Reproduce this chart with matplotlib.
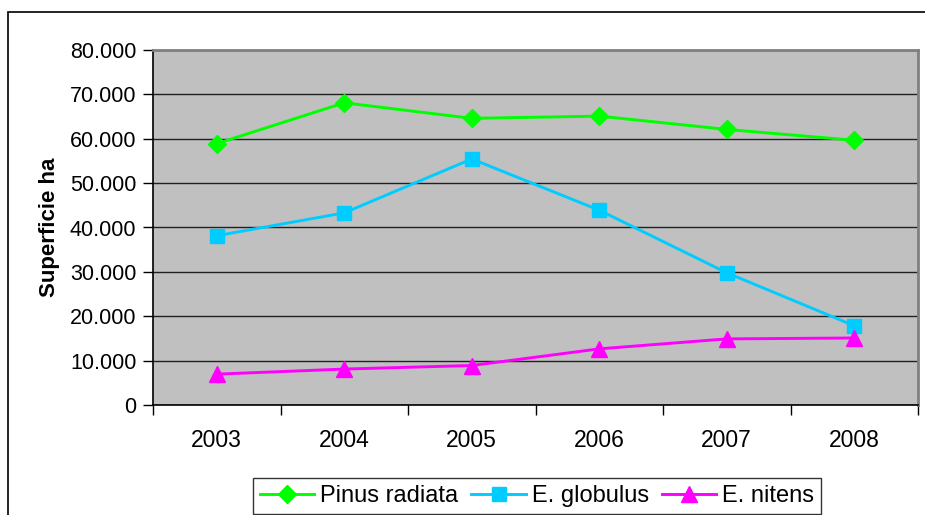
import matplotlib.pyplot as plt
from matplotlib.patches import Rectangle
from matplotlib.ticker import FuncFormatter

years = ['2003', '2004', '2005', '2006', '2007', '2008']
pinus = [58900, 68100, 64600, 65100, 62100, 59650]
globulus = [38150, 43300, 55450, 43900, 29800, 17850]
nitens = [6950, 8100, 8900, 12650, 14900, 15100]

plt.rcParams['font.family'] = ['Liberation Sans', 'DejaVu Sans']
plt.rcParams['font.size'] = 15.5

fig = plt.figure(figsize=(9.25, 5.15), dpi=100)
ax = fig.add_axes([153 / 925, 110 / 515, 765 / 925, 355 / 515])

# outer chart border (extends past the right and bottom edges)
fig.patches.append(Rectangle((8 / 925, -0.1), 1.2, 1 - 12 / 515 + 0.1,
                             transform=fig.transFigure, fill=False,
                             edgecolor='black', linewidth=1.2, zorder=0))

x = list(range(len(years)))
ax.plot(x, pinus, color='#00FF00', lw=2.1, marker='D', markersize=9.5,
        label='Pinus radiata', zorder=3)
ax.plot(x, globulus, color='#00CCFF', lw=2.1, marker='s', markersize=10,
        label='E. globulus', zorder=3)
ax.plot(x, nitens, color='#FF00FF', lw=2.1, marker='^', markersize=11,
        label='E. nitens', zorder=3)

ax.set_facecolor('#C0C0C0')
ax.set_xlim(-0.5, len(years) - 0.5)
ax.set_ylim(0, 80000)
ax.set_yticks(range(0, 80001, 10000))
ax.yaxis.set_major_formatter(FuncFormatter(lambda v, p: '{:,.0f}'.format(v).replace(',', '.')))
ax.grid(axis='y', color='#202020', linewidth=1)
ax.set_axisbelow(True)

ax.set_xticks([i - 0.5 for i in range(len(years) + 1)])
ax.set_xticklabels([])
ax.set_xticks(x, minor=True)
ax.set_xticklabels(years, minor=True)
ax.tick_params(axis='x', which='major', length=7, width=1, direction='out')
ax.tick_params(axis='x', which='minor', length=0, pad=17, labelsize=16.5)
ax.tick_params(axis='y', length=7, width=1, direction='out', pad=5)

for s in ['top', 'right']:
    ax.spines[s].set_color('#808080')
    ax.spines[s].set_linewidth(2)
for s in ['left', 'bottom']:
    ax.spines[s].set_color('black')
    ax.spines[s].set_linewidth(1.2)

ax.set_ylabel('Superficie ha', fontweight='bold', fontsize=16)
ax.yaxis.set_label_coords(-0.122, 0.5)

leg = fig.legend(loc='upper center', bbox_to_anchor=(537 / 925, 1 - 478 / 515),
                 ncol=3, frameon=True, fancybox=False, edgecolor='black',
                 fontsize=17, handlelength=2.3, handletextpad=0.25,
                 columnspacing=0.55, borderpad=0.3, borderaxespad=0)
leg.get_frame().set_linewidth(1)

fig.savefig('out.png', dpi=100)
